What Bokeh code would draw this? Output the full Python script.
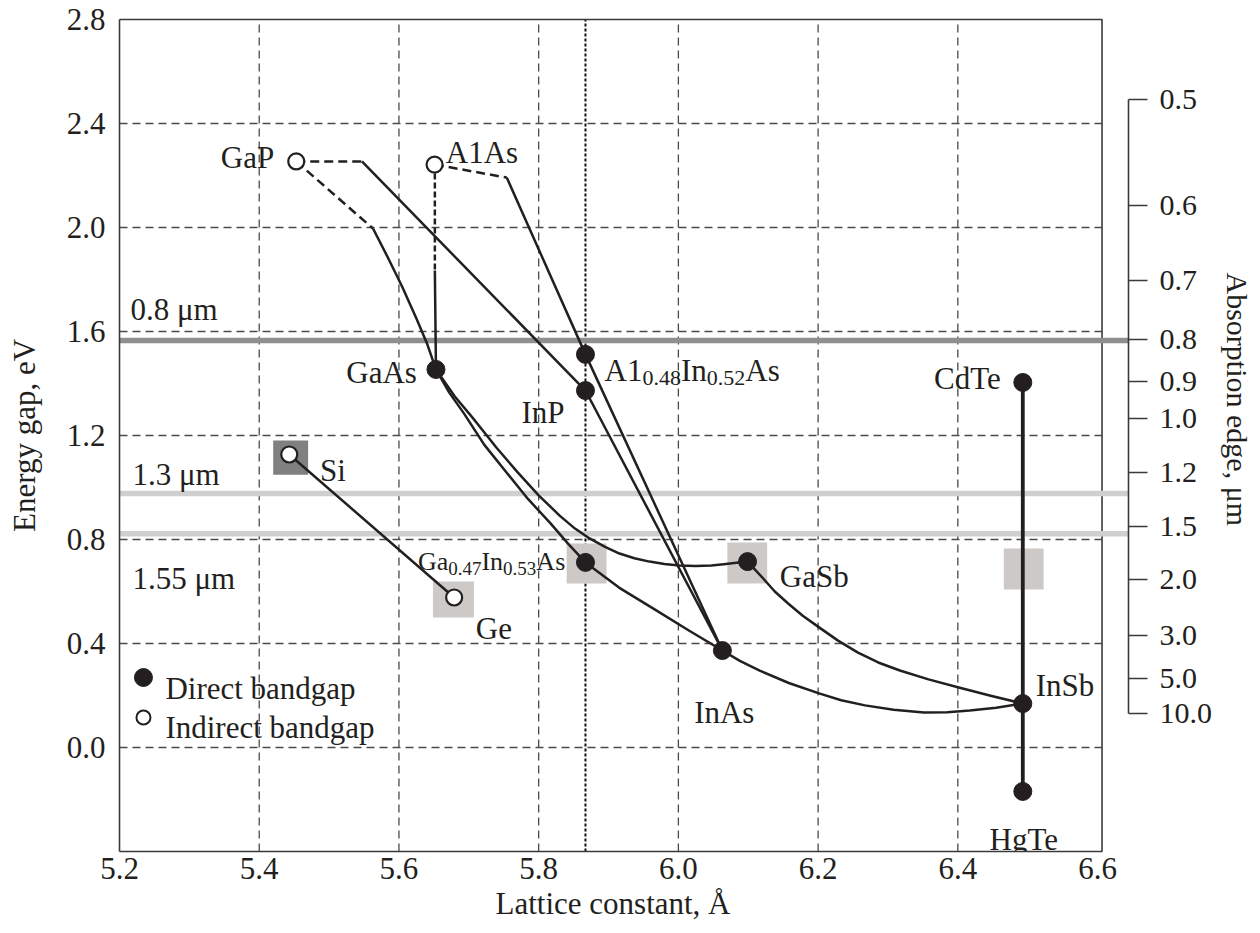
from bokeh.plotting import figure
from bokeh.models import LinearAxis, FixedTicker, ColumnDataSource, Title, PrintfTickFormatter
from bokeh.embed import file_html
from bokeh.resources import INLINE
from bokeh.core.properties import value

FONT = "Liberation Serif"
INK = "#231f20"

# ---------------- data ----------------
x_ticks = [5.2, 5.4, 5.6, 5.8, 6.0, 6.2, 6.4, 6.6]
y_ticks = [0.0, 0.4, 0.8, 1.2, 1.6, 2.0, 2.4, 2.8]
x_grid = [5.4, 5.6, 5.8, 6.0, 6.2, 6.4]
y_grid = [0.0, 0.4, 0.8, 1.2, 1.6, 2.0, 2.4]
x_frame_end = 6.6064
x_view_end = 6.6443
inp_lattice = 5.867

abs_labels = ["0.5", "0.6", "0.7", "0.8", "0.9", "1.0", "1.2", "1.5", "2.0", "3.0", "5.0", "10.0"]
abs_energy = [2.492, 2.085, 1.796, 1.569, 1.408, 1.265, 1.058, 0.850, 0.646, 0.431, 0.265, 0.131]

band_names = ["0.8 μm", "1.3 μm", "1.55 μm"]
band_energy = [1.565, 0.977, 0.822]
band_colors = ["#8f8f8f", "#cfcfcf", "#cfcfcf"]
band_label_x = [5.2157, 5.2186, 5.2186]
band_label_y = [1.6846, 1.050, 0.650]

direct_names = ["GaAs", "Al0.48In0.52As", "InP", "CdTe", "Ga0.47In0.53As", "GaSb", "InAs", "InSb", "HgTe"]
direct_a = [5.653, 5.867, 5.867, 6.493, 5.867, 6.099, 6.063, 6.493, 6.493]
direct_eg = [1.454, 1.512, 1.373, 1.404, 0.712, 0.715, 0.373, 0.169, -0.169]

indirect_names = ["GaP", "AlAs", "Si", "Ge"]
indirect_a = [5.453, 5.651, 5.443, 5.679]
indirect_eg = [2.254, 2.242, 1.127, 0.577]

# detector windows (gray squares)
box_a = [5.445, 5.678, 5.8686, 6.0986, 6.4943]
box_eg = [1.115, 0.569, 0.708, 0.7096, 0.6865]
box_w = [0.050, 0.0586, 0.057, 0.057, 0.057]
box_h = [0.131, 0.138, 0.154, 0.158, 0.158]
box_colors = ["#808080", "#cdc9c6", "#cdc9c6", "#cdc9c6", "#cdc9c6"]

# alloy curves: solid parts
solid_curves = [
    ([5.547, 5.867], [2.254, 1.373]),                                   # GaP-InP
    ([5.5629, 5.585, 5.605, 5.625, 5.640, 5.653],
     [1.996, 1.880, 1.770, 1.650, 1.555, 1.454]),                       # GaP-GaAs
    ([5.6514, 5.653], [1.835, 1.454]),                                  # AlAs-GaAs
    ([5.7543, 5.867, 6.063], [2.192, 1.512, 0.373]),                    # AlAs-InAs
    ([5.867, 6.063], [1.373, 0.373]),                                   # InP-InAs
    ([5.653, 5.672, 5.693, 5.722, 5.754, 5.785, 5.817, 5.842, 5.867, 5.915, 5.966, 6.015, 6.063],
     [1.454, 1.365, 1.285, 1.165, 1.058, 0.955, 0.862, 0.784, 0.712, 0.615, 0.531, 0.450, 0.373]),  # GaAs-InAs
    ([5.653, 5.680, 5.7086, 5.740, 5.770, 5.800, 5.830, 5.852, 5.8729, 5.895, 5.9157, 5.937, 5.9586,
      5.980, 6.0014, 6.025, 6.0471, 6.065, 6.080, 6.099],
     [1.454, 1.350, 1.258, 1.152, 1.058, 0.970, 0.892, 0.842, 0.804, 0.772, 0.746, 0.728, 0.715,
      0.706, 0.700, 0.698, 0.700, 0.705, 0.710, 0.715]),                # GaAs-GaSb
    ([6.099, 6.110, 6.1214, 6.138, 6.1571, 6.178, 6.2014, 6.228, 6.2571, 6.286, 6.3171, 6.358, 6.4014, 6.447, 6.493],
     [0.715, 0.683, 0.650, 0.600, 0.554, 0.507, 0.462, 0.412, 0.365, 0.327, 0.296, 0.262, 0.231, 0.199, 0.169]),  # GaSb-InSb
    ([6.063, 6.088, 6.1164, 6.158, 6.2014, 6.233, 6.2671, 6.308, 6.3514, 6.385, 6.4171, 6.455, 6.493],
     [0.373, 0.333, 0.296, 0.248, 0.208, 0.182, 0.162, 0.145, 0.135, 0.136, 0.142, 0.153, 0.169]),  # InAs-InSb
    ([5.443, 5.679], [1.127, 0.577]),                                   # Si-Ge
]
# indirect (dashed) parts
dashed_curves = [
    ([5.453, 5.547], [2.254, 2.254]),
    ([5.453, 5.5629], [2.254, 1.996]),
    ([5.6514, 5.7543], [2.242, 2.192]),
]
alas_drop = ([5.6514, 5.6514], [2.242, 1.835])
hgcdte = ([6.493, 6.493], [1.404, -0.169])

# ---------------- figure ----------------
p = figure(width=1260, height=933, output_backend="svg", toolbar_location=None,
           x_range=(5.2, x_view_end), y_range=(-0.4, 2.8),
           min_border_left=119, min_border_right=130, min_border_top=19, min_border_bottom=82,
           x_axis_type=None, y_axis_type=None)
p.outline_line_color = None
p.background_fill_color = "white"
p.border_fill_color = "white"

FRAME = "#3a3a3a"

def style_axis(ax, size="31px"):
    ax.major_tick_out = 0
    ax.major_tick_in = 0
    ax.minor_tick_out = 0
    ax.minor_tick_in = 0
    ax.axis_line_color = FRAME
    ax.axis_line_width = 1.6
    ax.major_label_text_font = FONT
    ax.major_label_text_font_size = size
    ax.major_label_text_color = INK
    ax.axis_label_text_font = FONT
    ax.axis_label_text_font_size = "31px"
    ax.axis_label_text_font_style = "normal"
    ax.axis_label_text_color = INK

bottom = LinearAxis(ticker=FixedTicker(ticks=x_ticks), bounds=(5.2, x_frame_end),
                    formatter=PrintfTickFormatter(format="%.1f"))
style_axis(bottom)
bottom.major_label_standoff = 6
p.add_layout(bottom, "below")

left = LinearAxis(ticker=FixedTicker(ticks=y_ticks), axis_label="Energy gap, eV",
                  formatter=PrintfTickFormatter(format="%.1f"))
style_axis(left)
left.major_label_standoff = 14
left.axis_label_standoff = 22
p.add_layout(left, "left")

top = LinearAxis(ticker=FixedTicker(ticks=[]), bounds=(5.2, x_frame_end))
style_axis(top)
top.major_label_text_font_size = "0px"
top.major_label_standoff = 0
p.add_layout(top, "above")

right = LinearAxis(ticker=FixedTicker(ticks=abs_energy), bounds=(min(abs_energy), max(abs_energy)))
style_axis(right, "30px")
right.major_tick_out = 19
right.major_tick_line_color = FRAME
right.major_tick_line_width = 1.6
right.major_label_standoff = 12
right.major_label_overrides = {e: t for e, t in zip(abs_energy, abs_labels)}
p.add_layout(right, "right")

# axis titles as side titles, so that they sit where the original has them
p.add_layout(Title(text="Lattice constant, Å", align="left", offset=376, standoff=5,
                   text_font=FONT, text_font_size="31px", text_font_style="normal",
                   text_color=INK), "below")
p.add_layout(Title(text="Absorption edge, μm", align="left", offset=253, standoff=10,
                   text_font=FONT, text_font_size="30px", text_font_style="normal",
                   text_color=INK), "right")

# right frame edge
p.segment(x0=[x_frame_end], y0=[-0.4], x1=[x_frame_end], y1=[2.8], line_color=FRAME, line_width=1.6)

# grid
GRID = "#4a4a4a"
p.segment(x0=x_grid, y0=[-0.4] * len(x_grid), x1=x_grid, y1=[2.8] * len(x_grid),
          line_color=GRID, line_width=1.3, line_dash="8 5")
p.segment(x0=[5.2] * len(y_grid), y0=y_grid, x1=[x_frame_end] * len(y_grid), y1=y_grid,
          line_color=GRID, line_width=1.3, line_dash="8 5")
p.segment(x0=[inp_lattice], y0=[-0.4], x1=[inp_lattice], y1=[2.8],
          line_color="#111111", line_width=2, line_dash="3 2")

# wavelength bands
p.segment(x0=[5.2] * 3, y0=band_energy, x1=[x_view_end] * 3, y1=band_energy,
          line_color=band_colors, line_width=5.5)

# squares
p.rect(x=box_a, y=box_eg, width=box_w, height=box_h, fill_color=box_colors, line_color=None)

# curves
LINE = "#231f20"
for xs, ys in solid_curves:
    p.line(xs, ys, line_color=LINE, line_width=2.5, line_join="round")
for xs, ys in dashed_curves:
    p.line(xs, ys, line_color=LINE, line_width=2.5, line_dash="9 5")
p.line(alas_drop[0], alas_drop[1], line_color=LINE, line_width=2.5, line_dash="6 3")
p.line(hgcdte[0], hgcdte[1], line_color=LINE, line_width=3.8)

# markers
p.scatter(direct_a, direct_eg, size=18, fill_color=LINE, line_color=LINE)
p.scatter(indirect_a, indirect_eg, size=16, fill_color="white", line_color=LINE, line_width=2.2)

# legend (drawn by hand, like the original)
p.scatter([5.2343], [0.2692], size=18, fill_color=LINE, line_color=LINE)
p.scatter([5.2343], [0.1154], size=14, fill_color="white", line_color=LINE, line_width=2)
p.text(x=[5.2657, 5.2657], y=[0.2269, 0.0769], text=["Direct bandgap", "Indirect bandgap"],
       text_font=value(FONT), text_font_size="31px", text_color=INK,
       text_align="left", text_baseline="alphabetic")

# band labels
p.text(x=band_label_x, y=band_label_y, text=band_names, text_font=value(FONT),
       text_font_size="31px", text_color=INK, text_align="left", text_baseline="alphabetic")

# compound labels
def labels(xs, ys, texts, align, size="31px"):
    p.text(x=xs, y=ys, text=texts, text_font=value(FONT), text_font_size=size,
           text_color=INK, text_align=align, text_baseline="alphabetic")

labels([5.4214, 5.6257, 5.8371, 6.4614], [2.2692, 1.442, 1.2885, 1.419],
       ["GaP", "GaAs", "InP", "CdTe"], "right")
labels([5.6671, 5.4871, 5.710, 6.1451, 6.5114], [2.2885, 1.0654, 0.4577, 0.6577, 0.2385],
       ["A1As", "Si", "Ge", "GaSb", "InSb"], "left")
labels([6.0657, 6.4943], [0.1346, -0.354], ["InAs", "HgTe"], "center")

# composite labels with subscripts
def composite(x, y, parts, big, small, w_big, w_small, drop):
    xs, ys, ts, offs, yoffs, sizes = [], [], [], [], [], []
    off = 0.0
    for t, is_sub in parts:
        xs.append(x); ys.append(y); ts.append(t); offs.append(off)
        yoffs.append(drop if is_sub else 0)
        sizes.append(small if is_sub else big)
        off += (w_small if is_sub else w_big)(t)
    src = ColumnDataSource(dict(x=xs, y=ys, text=ts, xo=offs, yo=yoffs, fs=sizes))
    p.text(x="x", y="y", text="text", x_offset="xo", y_offset="yo", text_font_size="fs",
           source=src, text_font=value(FONT), text_color=INK, text_align="left",
           text_baseline="alphabetic")

ADV = {"A": 0.722, "1": 0.5, "I": 0.333, "n": 0.5, "s": 0.389, "G": 0.722, "a": 0.444,
       "0": 0.5, "4": 0.5, "8": 0.5, "5": 0.5, "2": 0.5, "7": 0.5, "3": 0.5, ".": 0.25}

def width_fn(px):
    return lambda t: sum(ADV.get(c, 0.5) for c in t) * px

composite(5.8943, 1.450, [("A1", False), ("0.48", True), ("In", False), ("0.52", True), ("As", False)],
          "31px", "22px", width_fn(31), width_fn(22), 7)
composite(5.6271, 0.7154, [("Ga", False), ("0.47", True), ("In", False), ("0.53", True), ("As", False)],
          "26px", "19px", width_fn(26), width_fn(19), 7)

open("out.html", "w").write(file_html(p, INLINE))
